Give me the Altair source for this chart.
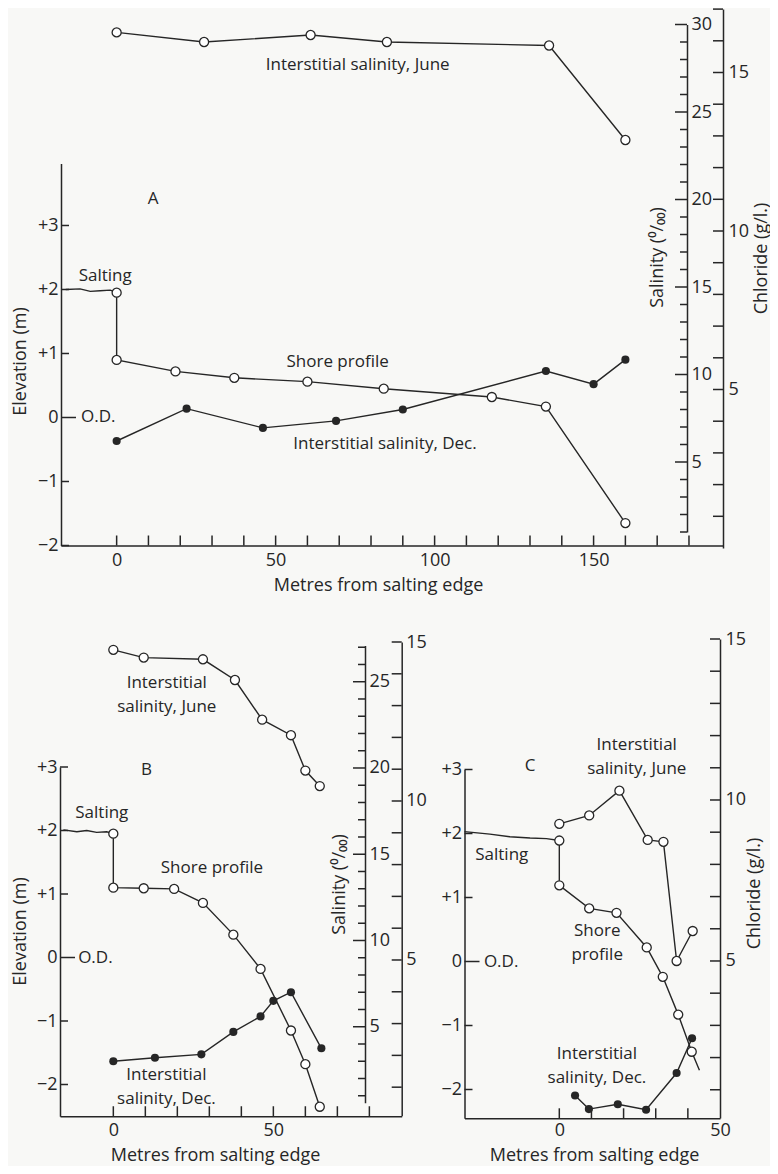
import altair as alt
import pandas as pd

W, H = 762, 1158
INK = "#262626"
FONT = "Open Sans"
FS = 18          # axis titles / tick labels
TS = 17          # annotation texts
LH = 23.5        # line height of two-line annotations

# ---------------- Panel A data ----------------
A_SALTING_X = [-16, -11.5, -8.3, -5.2, -2, 0]
A_SALTING_ELEV = [2.0, 2.01, 1.97, 1.98, 1.99, 1.95]
A_PROFILE_X = [0, 0, 18.5, 37, 60, 84, 118, 135, 160]
A_PROFILE_ELEV = [1.95, 0.9, 0.72, 0.62, 0.56, 0.45, 0.32, 0.17, -1.65]
A_JUNE_X = [0, 27.5, 61, 85, 136, 160]
A_JUNE_SAL = [29.55, 29.0, 29.4, 29.0, 28.8, 23.4]
A_DEC_X = [0, 22, 46, 69, 90, 135, 150, 160]
A_DEC_SAL = [6.2, 8.05, 6.95, 7.35, 8.0, 10.2, 9.45, 10.85]

# ---------------- Panel B data ----------------
B_SALTING_X = [-15.6, -11.4, -8.3, -5.2, -2.1, 0]
B_SALTING_ELEV = [2.01, 1.98, 2.0, 1.97, 1.98, 1.95]
B_PROFILE_X = [0, 0, 9.5, 19, 28, 37.5, 46, 55.5, 60, 64.5]
B_PROFILE_ELEV = [1.95, 1.1, 1.09, 1.08, 0.86, 0.36, -0.18, -1.15, -1.68, -2.35]
B_JUNE_X = [0, 9.5, 28, 38, 46.5, 55.5, 60, 64.5]
B_JUNE_SAL = [26.85, 26.4, 26.3, 25.1, 22.8, 21.9, 19.85, 18.95]
B_DEC_X = [0, 13, 27.5, 37.5, 46, 50, 55.5, 65]
B_DEC_SAL = [3.0, 3.2, 3.4, 4.7, 5.6, 6.5, 7.0, 3.75]

# ---------------- Panel C data ----------------
C_SALTING_X = [-29.5, -21.6, -15.4, -9.1, -4, 0]
C_SALTING_ELEV = [2.03, 1.99, 1.95, 1.93, 1.92, 1.89]
C_PROFILE_X = [0, 0, 9.3, 17.8, 27.2, 32.2, 37, 41.2, 43.6]
C_PROFILE_ELEV = [1.89, 1.19, 0.83, 0.76, 0.22, -0.24, -0.83, -1.41, -1.70]
C_PROFILE_MARKED = [1, 1, 1, 1, 1, 1, 1, 1, 0]
C_JUNE_X = [0, 9.3, 18.7, 27.5, 32.4, 36.5, 41.5]
C_JUNE_CL = [9.26, 9.52, 10.29, 8.76, 8.70, 5.0, 5.93]
C_DEC_X = [4.9, 9.2, 18.2, 27, 36.5, 41.3]
C_DEC_CL = [0.82, 0.4, 0.55, 0.38, 1.52, 2.6]

# ---------------- axis tick values ----------------
ELEV_TICKS = [-2, -1, 0, 1, 2, 3]
A_X_TICKS = [0, 10, 20, 30, 40, 50, 60, 70, 80, 90, 100, 110, 120, 130, 140, 150, 160, 170, 180]
A_X_LABELS = [0, 50, 100, 150]
A_SAL_MAJOR = [5, 10, 15, 20, 25, 30]
A_SAL_MINOR = [1, 2, 3, 4, 6, 7, 8, 9, 11, 12, 13, 14, 16, 17, 18, 19, 21, 22, 23, 24, 26, 27, 28, 29]
A_CL_TICKS = [1, 2, 3, 4, 5, 6, 7, 8, 9, 10, 11, 12, 13, 14, 15, 16, 17]
B_X_TICKS = [0, 10, 20, 30, 40, 50, 60, 70, 80]
B_SAL_MAJOR = [5, 10, 15, 20, 25]
B_SAL_MINOR = [1, 2, 3, 4, 6, 7, 8, 9, 11, 12, 13, 14, 16, 17, 18, 19, 21, 22, 23, 24, 26, 27]
CL_TICKS_15 = [1, 2, 3, 4, 5, 6, 7, 8, 9, 10, 11, 12, 13, 14, 15]
CL_LABELS = [5, 10, 15]
C_X_TICKS = [0, 10, 20, 30, 40]
BC_X_LABELS = [0, 50]

# ---------------- annotation texts (first-line anchors) ----------------
A_ELEV_TEXT = ["A", "Salting", "Shore profile", "O.D."]
A_ELEV_TEXT_X = [11.5, -3.6, 69.5, -5.8]
A_ELEV_TEXT_Y = [3.41, 2.21, 0.86, 0.0]
A_SAL_TEXT = ["Interstitial salinity, June", "Interstitial salinity, Dec."]
A_SAL_TEXT_X = [75.8, 84.4]
A_SAL_TEXT_Y = [27.7, 6.03]

B_ELEV_TEXT = ["B", "Salting", "Shore profile", "O.D."]
B_ELEV_TEXT_X = [10.4, -3.6, 30.8, -5.6]
B_ELEV_TEXT_Y = [2.96, 2.28, 1.41, 0.0]
B_SAL_TEXT = ["Interstitial\nsalinity, June", "Interstitial\nsalinity, Dec."]
B_SAL_TEXT_X = [16.7, 16.6]
B_SAL_TEXT_Y = [24.9, 2.2]

C_ELEV_TEXT = ["C", "Salting", "Shore\nprofile", "O.D."]
C_ELEV_TEXT_X = [-9.1, -17.9, 11.8, -18.1]
C_ELEV_TEXT_Y = [3.05, 1.66, 0.47, 0.0]
C_CL_TEXT = ["Interstitial\nsalinity, June", "Interstitial\nsalinity, Dec."]
C_CL_TEXT_X = [24.1, 11.7]
C_CL_TEXT_Y = [11.7, 2.11]

ELEV_EXPR = "datum.value > 0 ? '+' + datum.value : (datum.value < 0 ? '\u2212' + (-datum.value) : '0')"

# scales: (domain, pixel range)
SCALES = {
    "A": dict(x=([-17.5, 190.7], [53, 715]), elev=([-2, 3.97], [537.5, 155.4]),
              sal=([1, 30], [524, 16.5]), cl=([0, 17], [540, 1.1])),
    "B": dict(x=([-16.66, 90.1], [52, 393.7]), elev=([-2.5, 3], [1108.25, 759]),
              sal=([0.6, 27.1], [1094.65, 637.5]), cl=([0.1, 15], [1107.8, 634])),
    "C": dict(x=([-29.5, 50], [456.5, 712]), elev=([-2.45, 3], [1110.3, 761.5]),
              cl=([0.12, 15], [1110.1, 631])),
}


def S(spec):
    d, r = spec
    return alt.Scale(domain=d, range=r, nice=False, zero=False)


def enc(xs, ys, xaxis=None, yaxis=None, order=False):
    e = dict(x=alt.X("x:Q", scale=S(xs), axis=xaxis),
             y=alt.Y("y:Q", scale=S(ys), axis=yaxis))
    if order:
        e["order"] = alt.Order("i:Q")
    return e


def frame(xv, yv):
    return pd.DataFrame({"x": xv, "y": yv, "i": list(range(len(xv)))})


def axis(orient, P, values, pad, expr=None, title=None, tx=None, ty=None, angle=None):
    off = {"left": -P, "right": P - W, "top": -P, "bottom": P - H}[orient]
    kw = dict(orient=orient, offset=off, values=values, labels=True, ticks=False,
              domain=True, grid=False, labelFlush=False, labelOverlap=False,
              labelPadding=pad)
    if expr:
        kw["labelExpr"] = expr
    if title:
        kw.update(title=title, titleX=tx, titleY=ty, titleAlign="center",
                  titleBaseline="middle")
        if angle is not None:
            kw["titleAngle"] = angle
    else:
        kw["title"] = None
    return alt.Axis(**kw)


layers = []


def carrier(xs, ys, xaxis=None, yaxis=None):
    df = pd.DataFrame({"x": [xs[0][0]], "y": [ys[0][0]]})
    layers.append(alt.Chart(df).mark_point(opacity=0).encode(**enc(xs, ys, xaxis, yaxis)))


def vticks(ys, vals, P, length):
    """ticks on a vertical axis whose line stands at pixel column P"""
    df = pd.DataFrame({"v": vals})
    layers.append(alt.Chart(df).mark_rule(color=INK, strokeWidth=1.5).encode(
        y=alt.Y("v:Q", scale=S(ys), axis=None),
        x=alt.value(P), x2=alt.value(P + length)))


def hticks(xs, vals, Q, length):
    """upward ticks on a horizontal axis whose line lies at pixel row Q"""
    df = pd.DataFrame({"v": vals})
    layers.append(alt.Chart(df).mark_rule(color=INK, strokeWidth=1.5).encode(
        x=alt.X("v:Q", scale=S(xs), axis=None),
        y=alt.value(Q), y2=alt.value(Q - length)))


def series(xs, ys, xv, yv, kind, marked=None):
    df = frame(xv, yv)
    layers.append(alt.Chart(df).mark_line(color=INK, strokeWidth=1.4)
                  .encode(**enc(xs, ys, order=True)))
    if kind is None:
        return
    pts = df if marked is None else df[[bool(m) for m in marked]]
    if kind == "open":
        m = alt.Chart(pts).mark_point(shape="circle", filled=True, fill="white",
                                      stroke=INK, strokeWidth=1.3, size=82, opacity=1)
    else:
        m = alt.Chart(pts).mark_circle(color=INK, size=66, opacity=1)
    layers.append(m.encode(**enc(xs, ys)))


def texts(xs, ys, t, xv, yv):
    df = pd.DataFrame({"t": t, "x": xv, "y": yv})
    layers.append(alt.Chart(df).mark_text(font=FONT, fontSize=TS, color=INK,
                                          align="center", baseline="middle",
                                          lineBreak="\n", lineHeight=LH)
                  .encode(text="t:N", **enc(xs, ys)))


def base_axes(xs, es, xlabels, xticks, xtitle_x, xtitle_y, xpad, etitle_x=None, etitle_y=None):
    xl = xs[1][0]
    yb = es[1][0]
    xaxis = axis("bottom", yb, xlabels, xpad, title="Metres from salting edge",
                 tx=xtitle_x, ty=xtitle_y)
    yaxis = axis("left", xl, ELEV_TICKS, 3, ELEV_EXPR,
                 title="Elevation (m)" if etitle_x is not None else None,
                 tx=etitle_x, ty=etitle_y, angle=270)
    carrier(xs, es, xaxis=xaxis, yaxis=yaxis)
    hticks(xs, xticks, yb, 10)
    vticks(es, [v for v in ELEV_TICKS if v != 0], xl, 8)
    vticks(es, [0], xl, 15)


def side_axis(xs, ys, P, labels, pad, title=None, tx=None, ty=None):
    carrier(xs, ys, yaxis=axis("right", P, labels, pad, title=title, tx=tx, ty=ty, angle=270))


# ---------------- Panel A ----------------
a = SCALES["A"]
base_axes(a["x"], a["elev"], A_X_LABELS, A_X_TICKS, 370, 39.5, 6, -41, 353)
side_axis(a["x"], a["sal"], 679, A_SAL_MAJOR, 4, "Salinity (\u2070/\u2080\u2080)", -30, 249)
vticks(a["sal"], A_SAL_MAJOR, 679, -12)
vticks(a["sal"], A_SAL_MINOR, 679, -7)
side_axis(a["x"], a["cl"], 715, CL_LABELS, 5, "Chloride (g/l.)", 38, 250)
vticks(a["cl"], A_CL_TICKS, 715, -10)
series(a["x"], a["elev"], A_SALTING_X, A_SALTING_ELEV, None)
series(a["x"], a["elev"], A_PROFILE_X, A_PROFILE_ELEV, "open")
series(a["x"], a["sal"], A_JUNE_X, A_JUNE_SAL, "open")
series(a["x"], a["sal"], A_DEC_X, A_DEC_SAL, "solid")
texts(a["x"], a["elev"], A_ELEV_TEXT, A_ELEV_TEXT_X, A_ELEV_TEXT_Y)
texts(a["x"], a["sal"], A_SAL_TEXT, A_SAL_TEXT_X, A_SAL_TEXT_Y)

# ---------------- Panel B ----------------
b = SCALES["B"]
base_axes(b["x"], b["elev"], BC_X_LABELS, B_X_TICKS, 207, 38.75, 5, -40, 923)
side_axis(b["x"], b["sal"], 357, B_SAL_MAJOR, 4, "Salinity (\u2070/\u2080\u2080)", -26, 876)
vticks(b["sal"], B_SAL_MAJOR, 357, -12)
vticks(b["sal"], B_SAL_MINOR, 357, -7)
side_axis(b["x"], b["cl"], 393.7, CL_LABELS, 4)
vticks(b["cl"], CL_TICKS_15, 393.7, -10)
series(b["x"], b["elev"], B_SALTING_X, B_SALTING_ELEV, None)
series(b["x"], b["elev"], B_PROFILE_X, B_PROFILE_ELEV, "open")
series(b["x"], b["sal"], B_JUNE_X, B_JUNE_SAL, "open")
series(b["x"], b["sal"], B_DEC_X, B_DEC_SAL, "solid")
texts(b["x"], b["elev"], B_ELEV_TEXT, B_ELEV_TEXT_X, B_ELEV_TEXT_Y)
texts(b["x"], b["sal"], B_SAL_TEXT, B_SAL_TEXT_X, B_SAL_TEXT_Y)

# ---------------- Panel C ----------------
c = SCALES["C"]
base_axes(c["x"], c["elev"], BC_X_LABELS, C_X_TICKS, 586, 36.7, 3)
side_axis(c["x"], c["cl"], 712, CL_LABELS, 5, "Chloride (g/l.)", 34, 885)
vticks(c["cl"], CL_TICKS_15, 712, -10)
series(c["x"], c["elev"], C_SALTING_X, C_SALTING_ELEV, None)
series(c["x"], c["elev"], C_PROFILE_X, C_PROFILE_ELEV, "open", C_PROFILE_MARKED)
series(c["x"], c["cl"], C_JUNE_X, C_JUNE_CL, "open")
series(c["x"], c["cl"], C_DEC_X, C_DEC_CL, "solid")
texts(c["x"], c["elev"], C_ELEV_TEXT, C_ELEV_TEXT_X, C_ELEV_TEXT_Y)
texts(c["x"], c["cl"], C_CL_TEXT, C_CL_TEXT_X, C_CL_TEXT_Y)

chart = (
    alt.layer(*layers)
    .resolve_scale(x="independent", y="independent")
    .resolve_axis(x="independent", y="independent")
    .properties(width=W, height=H, autosize=alt.AutoSizeParams(type="none"),
                padding=0, background="#f8f8f6")
    .configure_view(stroke=None)
    .configure_axis(labelFont=FONT, labelFontSize=18, labelColor=INK,
                    titleFont=FONT, titleFontSize=FS, titleFontWeight="normal",
                    titleColor=INK, domainColor=INK, tickColor=INK,
                    domainWidth=1.5, tickWidth=1.5)
)

chart.save("out.html", embed_options={"renderer": "svg", "actions": False})
